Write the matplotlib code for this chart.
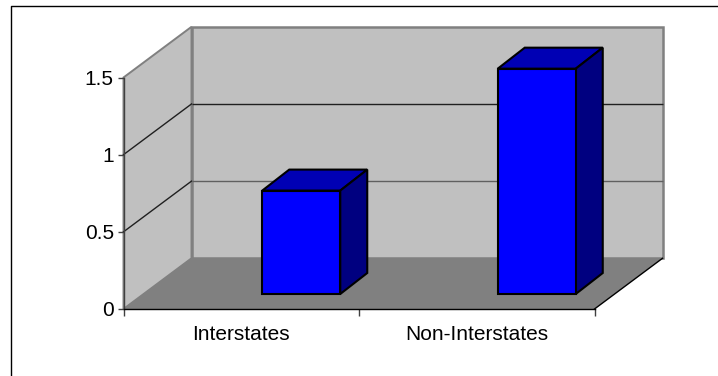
"""Oblique 3D column chart for interstate and non-interstate roads."""
import matplotlib
matplotlib.use('Agg')
import matplotlib.pyplot as plt
from matplotlib.lines import Line2D
from matplotlib.patches import Polygon

plt.rcParams['font.family'] = ['Liberation Sans', 'DejaVu Sans']

categories = ['Interstates', 'Non-Interstates']
values = [0.67, 1.46]
y_ticks = [0, 0.5, 1, 1.5]
y_tick_labels = ['0', '0.5', '1', '1.5']

WIDTH, HEIGHT = 718, 376

# depth of the box, in data units of the front plane
depth_x = 68 / 235.5
depth_y = 50.7 / 154.33
# bar placement inside the box
bar_width = 78 / 235.5
bar_shift = 60 / 235.5
bar_base = 15 / 154.33
bar_depth_x = 27 / 235.5
bar_depth_y = 21 / 154.33

fig = plt.figure(figsize=(WIDTH / 100, HEIGHT / 100), dpi=100, facecolor='white')
ax = fig.add_axes([123.5 / WIDTH, (HEIGHT - 309) / HEIGHT, 471 / WIDTH, 231.5 / HEIGHT])
ax.set_xlim(0, len(categories))
ax.set_ylim(0, 1.5)
ax.patch.set_visible(False)
for name in ['top', 'right']:
    ax.spines[name].set_visible(False)
ax.spines['left'].set_color('#404040')
ax.spines['left'].set_linewidth(1.0)
ax.spines['bottom'].set_color('black')
ax.spines['bottom'].set_linewidth(1.0)

x_max = len(categories)
y_max = 1.5


def add_poly(points, face, edge='none', lw=0, z=1):
    ax.add_patch(Polygon(points, closed=True, facecolor=face, edgecolor=edge,
                         linewidth=lw, clip_on=False, zorder=z, joinstyle='miter'))


# back wall, side wall and floor
add_poly([(depth_x, depth_y), (x_max + depth_x, depth_y),
          (x_max + depth_x, y_max + depth_y), (depth_x, y_max + depth_y)],
         '#C0C0C0', '#808080', 1.8)
add_poly([(0, 0), (depth_x, depth_y), (depth_x, y_max + depth_y), (0, y_max)],
         '#C0C0C0', '#808080', 1.4)
add_poly([(0, 0), (x_max, 0), (x_max + depth_x, depth_y), (depth_x, depth_y)], '#808080', z=1.5)
ax.plot([x_max, x_max + depth_x], [0, depth_y], color='black', lw=1.0, clip_on=False, zorder=1.6)

# gridlines run along both walls
back_grid_colors = {0.5: '#606060', 1: '#202020'}
for tick, color in back_grid_colors.items():
    ax.plot([0, depth_x], [tick, tick + depth_y], color='#202020', lw=1.0, clip_on=False, zorder=1.4)
    ax.plot([depth_x, x_max + depth_x], [tick + depth_y, tick + depth_y],
            color=color, lw=1.0, clip_on=False, zorder=1.4, solid_capstyle='butt')

# columns: front face plus top and side faces
for i, value in enumerate(values):
    left = i + 0.5 + bar_shift - bar_width / 2
    right = left + bar_width
    top = bar_base + value
    ax.bar(left, value, width=bar_width, bottom=bar_base, align='edge', color='#0000FF',
           edgecolor='black', linewidth=1.5, clip_on=False, zorder=3)
    add_poly([(left, top), (right, top), (right + bar_depth_x, top + bar_depth_y),
              (left + bar_depth_x, top + bar_depth_y)], '#0000B4', 'black', 1.5, 2.5)
    add_poly([(right, bar_base), (right + bar_depth_x, bar_base + bar_depth_y),
              (right + bar_depth_x, top + bar_depth_y), (right, top)], '#000080', 'black', 1.5, 2.5)

ax.set_yticks(y_ticks)
ax.set_yticklabels(y_tick_labels, fontsize=15)
ax.set_xticks(range(len(categories) + 1))
ax.set_xticklabels([''] * (len(categories) + 1))
ax.tick_params(axis='y', length=4, width=1, color='#404040', pad=3, labelcolor='black')
ax.tick_params(axis='x', length=5, width=1, color='#404040')
for i, name in enumerate(categories):
    ax.text(i + 0.5, -0.168, name, ha='center', va='center', fontsize=15, color='black')

# chart area border, left and top only
fig.add_artist(Line2D([10.5 / WIDTH, 10.5 / WIDTH, 1], [0, 1 - 5.5 / HEIGHT, 1 - 5.5 / HEIGHT],
                      transform=fig.transFigure, color='black', linewidth=1.0))

fig.savefig('out.png', dpi=100)
plt.close(fig)
